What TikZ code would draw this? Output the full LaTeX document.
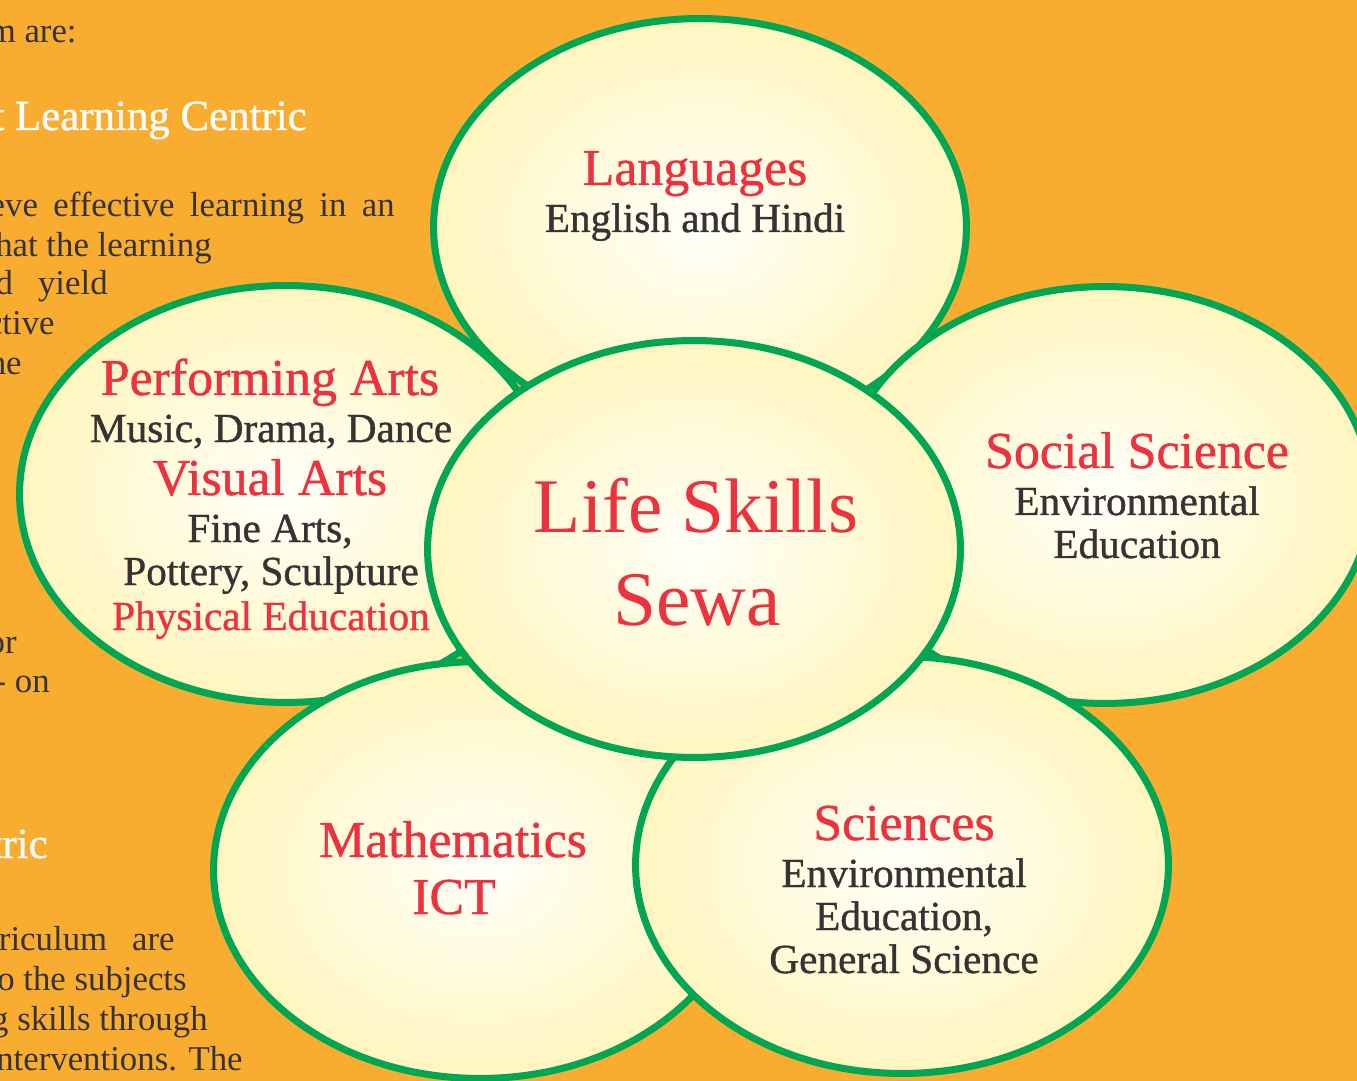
\documentclass[tikz,border=0pt]{standalone}
\usepackage{fontspec}
\setmainfont{Liberation Serif}
\newfontfamily\bubblefont[FakeBold=0.9]{Liberation Serif}
\usetikzlibrary{shapes.geometric}

\definecolor{pageorange}{RGB}{248,173,49}
\definecolor{rimgreen}{RGB}{0,166,81}
\definecolor{titlered}{RGB}{236,50,62}
\definecolor{inkgray}{RGB}{55,50,52}
\definecolor{creamin}{RGB}{255,255,248}
\definecolor{creamout}{RGB}{255,246,192}

\begin{document}
\begin{tikzpicture}[x=0.02cm, y=-0.02cm,
        bubble/.style = {ellipse, draw=rimgreen, line width=4pt, inner color=creamin, outer color=creamout, minimum width=10.66cm, minimum height=8.34cm, inner sep=0pt},
        head/.style = {anchor=base, text=titlered, font=\bubblefont\fontsize{29.5}{32}\selectfont, inner sep=0pt},
        sub/.style = {anchor=base, text=inkgray, font=\bubblefont\fontsize{23.5}{26}\selectfont, inner sep=0pt},
        hub/.style = {anchor=base, text=titlered, font=\fontsize{44}{48}\selectfont, inner sep=0pt},
        page/.style = {anchor=base east, text=inkgray, font=\fontsize{19.8}{22}\selectfont, inner sep=0pt},
        pagehead/.style = {page, text=white, font=\bubblefont\fontsize{24.4}{27}\selectfont},
        ]
        \useasboundingbox (0,0) rectangle (1357,1081);
        \clip (0,0) rectangle (1357,1081);
        \fill [pageorange] (0,0) rectangle (1357,1081);

        \node [page] (p1) at (77,43) {m are:};
        \node [pagehead] (p2) at (307,130) {t Learning Centric};
        \node [page] (p3) at (395,217) {\makebox[8.1cm][s]{eve effective learning in an}};
        \node [page] (p4) at (212,257) {hat the learning};
        \node [page] (p5) at (108,295) {d\hspace{0.5cm}yield};
        \node [page] (p6) at (55,335) {ctive};
        \node [page] (p7) at (22,375) {he};
        \node [page] (p8) at (17,653) {or};
        \node [page] (p9) at (50,692) {- on};
        \node [pagehead] (p10) at (48,858) {tric};
        \node [page] (p11) at (175,950) {riculum\hspace{0.5cm}are};
        \node [page] (p12) at (187,990) {o the subjects};
        \node [page] (p13) at (208,1030) {g skills through};
        \node [page] (p14) at (243,1070) {nterventions. The};

        \node [bubble] (lang) at (700,227) {};
        \node [bubble] (arts) at (286,494) {};
        \node [bubble] (social) at (1105,495) {};
        \node [bubble] (maths) at (480,870) {};
        \node [bubble] (sciences) at (902,865) {};
        \node [bubble] (lifeskills) at (694,549) {};

        \node [head] (langhead) at (695,185) {Languages};
        \node [sub] (langsub) at (695,232) {English and Hindi};

        \node [head] (perfhead) at (270,395) {Performing Arts};
        \node [sub] (perfsub) at (271,442) {Music, Drama, Dance};
        \node [head] (vishead) at (270,495) {Visual Arts};
        \node [sub] (vissub1) at (270,542) {Fine Arts,};
        \node [sub] (vissub2) at (271,585) {Pottery, Sculpture};
        \node [sub, text=titlered] (physed) at (271,630) {Physical Education};

        \node [head] (socialhead) at (1137,468) {Social Science};
        \node [sub] (socialsub1) at (1137,515) {Environmental};
        \node [sub] (socialsub2) at (1137,558) {Education};

        \node [head] (mathshead) at (453,857) {Mathematics};
        \node [head] (ict) at (454,914) {ICT};

        \node [head] (scihead) at (904,840) {Sciences};
        \node [sub] (scisub1) at (904,887) {Environmental};
        \node [sub] (scisub2) at (904,930) {Education,};
        \node [sub] (scisub3) at (904,973) {General Science};

        \node [hub] (hubtop) at (696,532) {Life Skills};
        \node [hub] (hubbottom) at (697,625) {Sewa};
    \end{tikzpicture}
\end{document}
